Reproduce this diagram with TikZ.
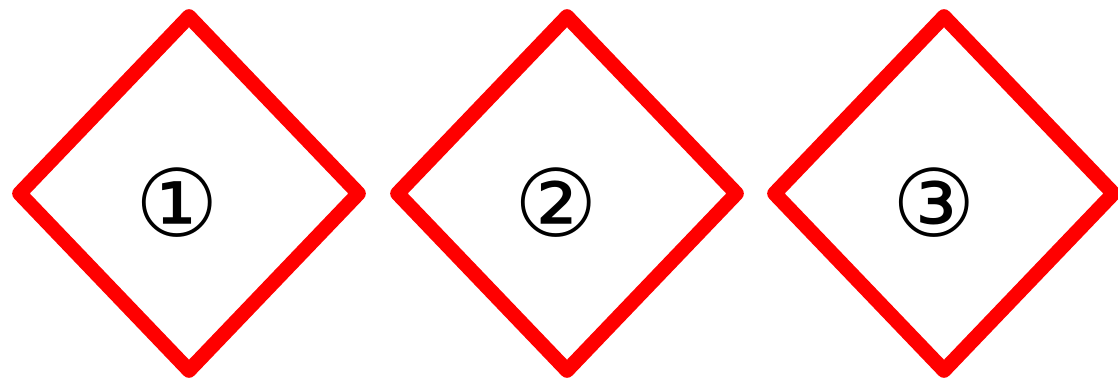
\documentclass[tikz,border=0pt]{standalone}
\usepackage{fontspec}
\usetikzlibrary{shapes.geometric}
\newfontfamily\symfont{DejaVu Sans}

\tikzset{
    sign/.style={diamond, draw=red, line width=8.4pt, line join=round,
        minimum width=6.9cm, minimum height=7.2cm, inner sep=0pt},
    num/.style={font=\symfont\fontsize{53}{53}\selectfont, inner sep=0pt}
}

\begin{document}
\begin{tikzpicture}
    % Frame of the picture
        \useasboundingbox (0,0) rectangle (22.36,-7.74);
        \clip (0,0) rectangle (22.36,-7.74);

        % The three diamonds
        \node[sign] (d1) at (3.78,-3.87) {};
        \node[sign] (d2) at (11.34,-3.87) {};
        \node[sign] (d3) at (18.88,-3.87) {};

        % Circled numbers
        \node[num] (n1) at (3.54,-4.05) {①};
        \node[num] (n2) at (11.12,-4.05) {②};
        \node[num] (n3) at (18.68,-4.05) {③};

    \end{tikzpicture}
\end{document}
